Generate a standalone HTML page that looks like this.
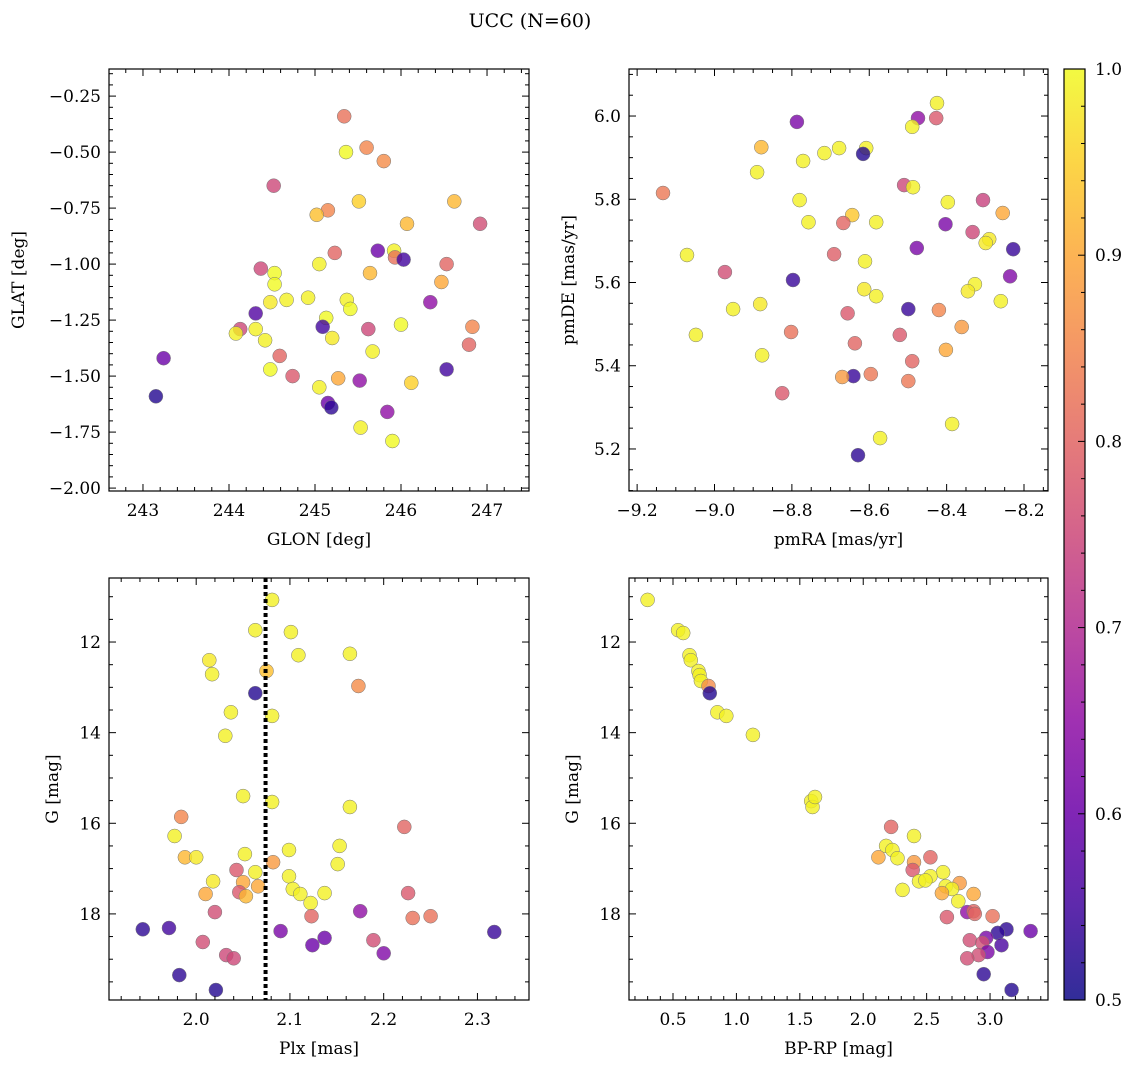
<!DOCTYPE html>
<html><head><meta charset="utf-8">
<style>
html,body{margin:0;padding:0;background:#fff;}
svg{display:block;font-family:"DejaVu Serif","Liberation Serif",serif;}
</style></head>
<body>
<svg id="fig" width="1136" height="1068" viewBox="0 0 1136 1068" xmlns="http://www.w3.org/2000/svg">
<rect width="1136" height="1068" fill="#fff"/>
<text x="530" y="27" text-anchor="middle" font-size="19">UCC (N=60)</text>
</svg>
<script>
// Panel 1: GLON / GLAT
const p1x=[245.34,245.36,245.60,245.80,244.52,245.51,245.15,245.02,246.62,246.92,246.07,245.73,245.92,245.23,245.93,246.03,245.05,246.53,244.37,244.53,245.64,246.47,244.53,244.92,244.67,244.48,245.37,246.34,245.41,244.31,245.13,244.13,244.31,245.09,246.00,246.83,245.62,244.08,245.20,244.42,246.79,243.24,245.67,244.59,244.48,246.53,244.74,245.27,245.52,246.12,245.05,243.15,245.15,245.19,245.84,245.53,245.90];
const p1y=[-0.34,-0.50,-0.48,-0.54,-0.65,-0.72,-0.76,-0.78,-0.72,-0.82,-0.82,-0.94,-0.94,-0.95,-0.97,-0.98,-1.00,-1.00,-1.02,-1.04,-1.04,-1.08,-1.09,-1.15,-1.16,-1.17,-1.16,-1.17,-1.20,-1.22,-1.24,-1.29,-1.29,-1.28,-1.27,-1.28,-1.29,-1.31,-1.33,-1.34,-1.36,-1.42,-1.39,-1.41,-1.47,-1.47,-1.50,-1.51,-1.52,-1.53,-1.55,-1.59,-1.62,-1.64,-1.66,-1.73,-1.79];
const p1c=[0.82,1.0,0.85,0.86,0.75,0.95,0.85,0.93,0.92,0.76,0.92,0.6,0.99,0.8,0.82,0.55,0.99,0.8,0.75,1.0,0.92,0.9,1.0,0.99,0.99,0.98,0.99,0.65,1.0,0.57,1.0,0.75,0.99,0.55,1.0,0.85,0.75,0.99,0.98,0.99,0.8,0.6,0.99,0.8,1.0,0.55,0.78,0.9,0.65,0.95,0.99,0.52,0.6,0.53,0.65,0.99,1.0];
// Panel 2: pmRA / pmDE
const p2x=[-8.425,-8.474,-8.427,-8.787,-8.489,-8.879,-8.678,-8.716,-8.608,-8.616,-8.771,-8.890,-9.133,-8.510,-8.487,-8.780,-8.306,-8.397,-8.255,-8.644,-8.757,-8.667,-8.582,-8.403,-8.333,-8.290,-8.299,-8.477,-8.228,-9.071,-8.691,-8.611,-8.327,-8.236,-8.973,-8.613,-8.345,-8.797,-8.582,-8.420,-8.499,-8.260,-8.952,-8.882,-8.656,-8.361,-8.802,-8.521,-9.048,-8.637,-8.402,-8.877,-8.489,-8.641,-8.670,-8.596,-8.499,-8.825,-8.386,-8.572,-8.629];
const p2y=[6.031,5.995,5.995,5.986,5.974,5.925,5.923,5.911,5.923,5.909,5.892,5.865,5.815,5.834,5.829,5.798,5.798,5.793,5.767,5.762,5.745,5.743,5.745,5.740,5.721,5.704,5.695,5.683,5.680,5.666,5.668,5.651,5.596,5.615,5.625,5.584,5.579,5.606,5.567,5.534,5.536,5.555,5.536,5.548,5.526,5.493,5.481,5.474,5.474,5.454,5.438,5.425,5.411,5.375,5.373,5.380,5.363,5.334,5.260,5.226,5.185];
const p2c=[0.99,0.65,0.78,0.62,0.99,0.92,0.99,0.99,0.99,0.52,0.99,0.99,0.83,0.75,0.99,0.99,0.74,0.99,0.9,0.94,0.99,0.8,0.99,0.62,0.75,0.98,0.98,0.62,0.54,0.99,0.79,0.99,0.99,0.63,0.76,0.98,0.98,0.54,0.99,0.85,0.54,0.99,0.99,0.98,0.78,0.88,0.82,0.78,0.99,0.8,0.9,0.99,0.8,0.54,0.88,0.83,0.83,0.78,0.99,0.99,0.53];
// Panel 3: Plx / G
const p3x=[2.081,2.063,2.101,2.014,2.109,2.164,2.075,2.017,2.173,2.063,2.081,2.037,2.031,2.050,2.081,2.164,1.984,2.222,1.977,2.153,2.099,1.988,2.000,2.052,2.082,2.151,2.043,2.063,2.099,2.018,2.050,2.066,2.103,2.010,2.046,2.053,2.111,2.137,2.226,2.122,2.020,2.175,2.123,2.250,2.231,1.943,1.971,2.090,2.318,2.137,2.189,2.007,2.124,2.032,2.040,2.200,1.982,2.021];
const p3y=[11.07,11.74,11.78,12.40,12.29,12.26,12.64,12.71,12.97,13.13,13.63,13.55,14.07,15.40,15.53,15.64,15.86,16.08,16.28,16.50,16.59,16.75,16.75,16.68,16.86,16.90,17.03,17.08,17.17,17.28,17.30,17.39,17.45,17.56,17.52,17.61,17.56,17.54,17.54,17.76,17.96,17.94,18.05,18.05,18.09,18.34,18.31,18.38,18.40,18.53,18.58,18.62,18.69,18.91,18.98,18.87,19.35,19.68];
const p3c=[0.99,0.99,0.99,0.98,0.99,0.99,0.93,0.99,0.86,0.52,0.99,0.99,0.99,0.99,0.99,0.99,0.85,0.8,0.99,0.99,0.99,0.92,0.98,0.99,0.88,0.99,0.78,0.99,0.99,0.98,0.9,0.9,0.99,0.9,0.78,0.92,0.99,0.99,0.78,0.99,0.76,0.65,0.8,0.82,0.82,0.53,0.55,0.62,0.54,0.6,0.76,0.76,0.6,0.75,0.75,0.63,0.53,0.52];
const plxLine=2.074;
// Panel 4: BP-RP / G
const p4x=[0.30,0.54,0.58,0.63,0.64,0.70,0.71,0.72,0.78,0.79,0.85,0.92,1.13,1.59,1.60,1.62,2.22,2.40,2.18,2.23,2.12,2.27,2.40,2.53,2.39,2.63,2.53,2.44,2.49,2.65,2.76,2.70,2.31,2.62,2.87,2.75,2.82,2.87,2.88,3.02,2.66,3.13,3.32,3.06,2.97,2.84,2.94,3.09,2.98,2.91,2.82,2.95,3.17];
const p4y=[11.07,11.74,11.80,12.29,12.40,12.64,12.73,12.86,12.97,13.13,13.55,13.63,14.05,15.51,15.64,15.42,16.08,16.28,16.50,16.59,16.75,16.77,16.86,16.75,17.03,17.08,17.17,17.28,17.26,17.39,17.32,17.45,17.47,17.54,17.56,17.72,17.96,17.94,18.0,18.05,18.07,18.34,18.38,18.42,18.53,18.58,18.64,18.69,18.84,18.91,18.98,19.33,19.68];
const p4c=[0.99,0.99,0.99,0.99,0.99,0.99,0.99,0.99,0.86,0.52,0.99,0.99,0.99,0.99,0.99,0.99,0.8,0.99,0.99,0.99,0.9,0.99,0.88,0.8,0.78,0.99,0.99,0.99,0.99,0.99,0.88,0.99,0.99,0.9,0.9,0.99,0.65,0.8,0.8,0.82,0.78,0.53,0.6,0.53,0.62,0.76,0.76,0.56,0.62,0.76,0.76,0.53,0.52];
const cbTicks=[0.5,0.6,0.7,0.8,0.9,1.0];

const NS="http://www.w3.org/2000/svg";
const svg=document.getElementById('fig');
function mk(tag,attrs,parent){const e=document.createElementNS(NS,tag);for(const k in attrs)e.setAttribute(k,attrs[k]);(parent||svg).appendChild(e);return e;}
const stops=[[13,8,135],[65,4,157],[106,0,168],[143,13,164],[177,42,144],[204,71,120],[225,100,98],[242,132,75],[252,166,54],[252,206,37],[240,249,33]];
function plasma(v){let t=(v-0.5)/0.5;t=Math.max(0,Math.min(1,t));const f=t*10;const i=Math.min(9,Math.floor(f));const r=f-i;const a=stops[i],b=stops[i+1];return `rgb(${Math.round(a[0]+(b[0]-a[0])*r)},${Math.round(a[1]+(b[1]-a[1])*r)},${Math.round(a[2]+(b[2]-a[2])*r)})`;}

function panel(o){
  const {x0,y0,x1,y1,xmin,xmax,ymin,ymax,inv}=o;
  const sx=v=>x0+(v-xmin)/(xmax-xmin)*(x1-x0);
  const sy=inv?(v=>y0+(v-ymin)/(ymax-ymin)*(y1-y0)):(v=>y1-(v-ymin)/(ymax-ymin)*(y1-y0));
  const g=mk('g',{});
  
  
  const pts=mk('g',{},g);
  
  
  for(let i=0;i<o.xs.length;i++){
    const c=mk('circle',{cx:sx(o.xs[i]).toFixed(1),cy:sy(o.ys[i]).toFixed(1),r:7,fill:plasma(o.cs[i]),'fill-opacity':0.8,stroke:'#777','stroke-width':0.5},pts);
    
    
  }
  if(o.vline!==undefined){
    const l=mk('line',{x1:sx(o.vline),x2:sx(o.vline),y1:y0,y2:y1,stroke:'#000','stroke-width':4,'stroke-dasharray':'4,3'},g);
    
    
  }
  const fr=mk('rect',{x:x0,y:y0,width:x1-x0,height:y1-y0,fill:'none',stroke:'#000','stroke-width':1.2},g);
  
  
  const tk=mk('g',{stroke:'#000','stroke-width':1},g);
  const eps=1e-9;
  for(let v=Math.ceil(xmin/o.xmin_s-eps)*o.xmin_s; v<=xmax+eps; v+=o.xmin_s){
    const isMaj=Math.abs(v/o.xmaj-Math.round(v/o.xmaj))<1e-6;const L=isMaj?7:4;const X=sx(v);
    mk('line',{x1:X,x2:X,y1:y1,y2:y1-L},tk);mk('line',{x1:X,x2:X,y1:y0,y2:y0+L},tk);
    if(isMaj){const t=mk('text',{x:X,y:y1+25,'text-anchor':'middle','font-size':17,stroke:'none',fill:'#000'},g);t.textContent=o.xfmt(v).replace('-','\u2212');
      }
  }
  for(let v=Math.ceil(ymin/o.ymin_s-eps)*o.ymin_s; v<=ymax+eps; v+=o.ymin_s){
    const isMaj=Math.abs(v/o.ymaj-Math.round(v/o.ymaj))<1e-6;const L=isMaj?7:4;const Y=sy(v);
    mk('line',{x1:x0,x2:x0+L,y1:Y,y2:Y},tk);mk('line',{x1:x1,x2:x1-L,y1:Y,y2:Y},tk);
    if(isMaj){const t=mk('text',{x:x0-8,y:Y+6,'text-anchor':'end','font-size':17,stroke:'none',fill:'#000'},g);t.textContent=o.yfmt(v).replace('-','\u2212');
      }
  }
  const xl=mk('text',{x:(x0+x1)/2,y:y1+54,'text-anchor':'middle','font-size':17},g);xl.textContent=o.xlabel;
  
  const yx=o.ylx,yy=(y0+y1)/2;
  const yl=mk('text',{x:yx,y:yy,'text-anchor':'middle','font-size':17,transform:`rotate(-90 ${yx} ${yy})`},g);yl.textContent=o.ylabel;
  
}
panel({name:'glon-glat-panel',x0:109,y0:69,x1:529,y1:491,xmin:242.605,xmax:247.488,ymin:-2.013,ymax:-0.129,xmaj:1,xmin_s:0.2,ymaj:0.25,ymin_s:0.05,xfmt:v=>Math.round(v).toString(),yfmt:v=>v.toFixed(2),xlabel:'GLON [deg]',ylabel:'GLAT [deg]',ylx:24,xs:p1x,ys:p1y,cs:p1c});
panel({name:'pm-panel',x0:629,y0:69,x1:1048,y1:491,xmin:-9.221,xmax:-8.138,ymin:5.099,ymax:6.113,xmaj:0.2,xmin_s:0.05,ymaj:0.2,ymin_s:0.05,xfmt:v=>v.toFixed(1),yfmt:v=>v.toFixed(1),xlabel:'pmRA [mas/yr]',ylabel:'pmDE [mas/yr]',ylx:574,xs:p2x,ys:p2y,cs:p2c});
panel({name:'plx-g-panel',x0:109,y0:578,x1:529,y1:1000,xmin:1.907,xmax:2.355,ymin:10.587,ymax:19.90,inv:true,xmaj:0.1,xmin_s:0.02,ymaj:2,ymin_s:0.5,xfmt:v=>v.toFixed(1),yfmt:v=>Math.round(v).toString(),xlabel:'Plx [mas]',ylabel:'G [mag]',ylx:58,xs:p3x,ys:p3y,cs:p3c,vline:plxLine});
panel({name:'cmd-panel',x0:629,y0:578,x1:1048,y1:1000,xmin:0.153,xmax:3.457,ymin:10.587,ymax:19.90,inv:true,xmaj:0.5,xmin_s:0.1,ymaj:2,ymin_s:0.5,xfmt:v=>v.toFixed(1),yfmt:v=>Math.round(v).toString(),xlabel:'BP-RP [mag]',ylabel:'G [mag]',ylx:578,xs:p4x,ys:p4y,cs:p4c});

const cb=mk('g',{});


const defs=mk('defs',{},cb);
const gr=mk('linearGradient',{id:'cbg',x1:0,y1:1,x2:0,y2:0},defs);
for(let i=0;i<=10;i++){mk('stop',{offset:i/10,'stop-color':plasma(0.5+i*0.05),'stop-opacity':0.85},gr);}
const cbx0=1064,cbx1=1085,cby0=69,cby1=1000;
mk('rect',{x:cbx0,y:cby0,width:cbx1-cbx0,height:cby1-cby0,fill:'url(#cbg)',stroke:'#000','stroke-width':1.2},cb);
const cy=v=>cby1-(v-0.5)/0.5*(cby1-cby0);
for(let k=0;k<=25;k++){const v=0.5+k*0.02;const Y=cy(v);const maj=k%5===0;
  mk('line',{x1:cbx1,x2:cbx1-(maj?7:4),y1:Y,y2:Y,stroke:'#000','stroke-width':1},cb);}
cbTicks.forEach(v=>{const t=mk('text',{x:cbx1+10,y:cy(v)+6,'font-size':17},cb);t.textContent=v.toFixed(1);
  });
</script>
</body></html>
